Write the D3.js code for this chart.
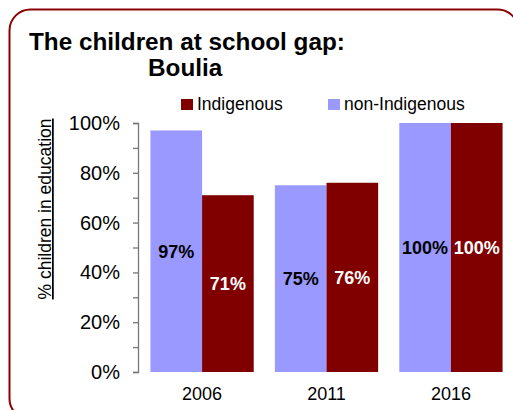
<!DOCTYPE html>
<html>
<head>
<meta charset="utf-8">
<script src="https://cdn.jsdelivr.net/npm/d3@7"></script>
<style>
html,body{margin:0;padding:0;background:#fff;overflow:hidden;}
svg{display:block;font-family:"Liberation Sans",Arial,Helvetica,sans-serif;}
</style>
</head>
<body>
<svg id="chart" width="513" height="410"></svg>
<script>
const years = ["2006", "2011", "2016"];
const seriesNames = ["non-Indigenous", "Indigenous"];
const nonIndigenous = [97, 75, 100];
const indigenous = [71, 76, 100];
const yTicks = [0, 20, 40, 60, 80, 100];
const legendOrder = ["Indigenous", "non-Indigenous"];

const colors = {"non-Indigenous": "#9999ff", "Indigenous": "#800000"};
const labelColors = {"non-Indigenous": "#000", "Indigenous": "#fff"};
const valuesBySeries = {"non-Indigenous": nonIndigenous, "Indigenous": indigenous};

const svg = d3.select("#chart");

// frame
svg.append("rect")
  .attr("x", 9.5).attr("y", 9.5)
  .attr("width", 509).attr("height", 410)
  .attr("rx", 21).attr("ry", 21)
  .attr("fill", "none")
  .attr("stroke", "#8b0000")
  .attr("stroke-width", 2);

// title
svg.append("text").attr("x", 29).attr("y", 50)
  .attr("font-size", 24.3).attr("font-weight", "bold").attr("fill", "#000")
  .text("The children at school gap:");
svg.append("text").attr("x", 148).attr("y", 76)
  .attr("font-size", 24.3).attr("font-weight", "bold").attr("fill", "#000")
  .text("Boulia");

// scales
const y = d3.scaleLinear().domain([0, 100]).range([372, 123]);
const x0 = d3.scaleBand().domain(years).range([138, 515]).paddingInner(0.17).paddingOuter(0.1);
const x1 = d3.scaleBand().domain(seriesNames).range([0, x0.bandwidth()]);

// y axis
const yAxis = d3.axisLeft(y)
  .tickValues(d3.range(0, 101, 10))
  .tickSize(5)
  .tickFormat(d => yTicks.includes(d) ? d + "%" : "");
const gy = svg.append("g").attr("transform", "translate(138,0)").call(yAxis);
gy.select(".domain").attr("stroke", "#777").attr("stroke-width", 1.3);
gy.selectAll(".tick line").attr("stroke", "#777").attr("stroke-width", 1.3);
gy.selectAll(".tick text").attr("font-size", 20).attr("fill", "#000")
  .attr("x", -18).attr("font-family", "Liberation Sans, Arial, sans-serif");

// y axis title
svg.append("text")
  .attr("transform", "translate(51,209) rotate(-90)")
  .attr("text-anchor", "middle")
  .attr("font-size", 17.5)
  .attr("fill", "#000")
  .style("text-decoration", "underline")
  .text("% children in education");

// bars
const groups = svg.append("g").selectAll("g")
  .data(years)
  .join("g")
  .attr("transform", d => `translate(${x0(d)},0)`);

groups.selectAll("rect")
  .data((d, i) => seriesNames.map(s => ({s, v: valuesBySeries[s][i]})))
  .join("rect")
  .attr("x", d => x1(d.s))
  .attr("y", d => y(d.v))
  .attr("width", x1.bandwidth())
  .attr("height", d => y(0) - y(d.v))
  .attr("fill", d => colors[d.s]);

groups.selectAll("text.val")
  .data((d, i) => seriesNames.map(s => ({s, v: valuesBySeries[s][i]})))
  .join("text")
  .attr("class", "val")
  .attr("x", d => x1(d.s) + x1.bandwidth() / 2)
  .attr("y", d => (y(d.v) + y(0)) / 2 + 6.5)
  .attr("text-anchor", "middle")
  .attr("font-size", 18)
  .attr("font-weight", "bold")
  .attr("fill", d => labelColors[d.s])
  .text(d => d.v + "%");

// x axis labels
svg.append("g").selectAll("text")
  .data(years)
  .join("text")
  .attr("x", d => x0(d) + x0.bandwidth() / 2)
  .attr("y", 400)
  .attr("text-anchor", "middle")
  .attr("font-size", 18)
  .attr("fill", "#000")
  .text(d => d);

// legend
const legendX = {"Indigenous": 181, "non-Indigenous": 328};
const lg = svg.append("g").selectAll("g").data(legendOrder).join("g")
  .attr("transform", d => `translate(${legendX[d]},99)`);
lg.append("rect").attr("width", 12).attr("height", 11).attr("fill", d => colors[d]);
lg.append("text").attr("x", 16).attr("y", 11)
  .attr("font-size", 17.5).attr("fill", "#000").text(d => d);
</script>
</body>
</html>
